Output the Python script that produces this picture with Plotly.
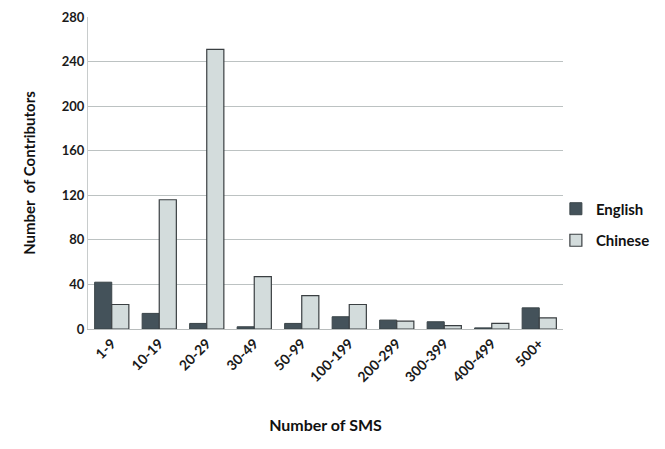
import plotly.graph_objects as go

categories = ["1-9", "10-19", "20-29", "30-49", "50-99", "100-199", "200-299", "300-399", "400-499", "500+"]
english = [42, 14, 5, 2, 5, 11, 8, 6.5, 1, 19]
chinese = [22, 116, 251, 47, 30, 22, 7, 3, 5, 10]
y_ticks = [0, 40, 80, 120, 160, 200, 240, 280]

FONT = "Lato"

fig = go.Figure()
fig.add_trace(go.Bar(x=categories, y=english, name="English", legendgroup="en",
                     marker=dict(color="#44525a", line=dict(color="#3a4448", width=1))))
fig.add_trace(go.Bar(x=categories, y=chinese, name="Chinese", legendgroup="zh",
                     marker=dict(color="#d3dcdc", line=dict(color="#3a3f42", width=1.2))))

fig.update_layout(
    width=657, height=441,
    margin=dict(l=80, r=102, t=9, b=120, autoexpand=False),
    paper_bgcolor="white", plot_bgcolor="white",
    barmode="group", bargap=0.28, bargroupgap=0,
    font=dict(family=FONT, color="#1a1a1a", size=14),
    legend=dict(x=0.985, y=0.335, xanchor="left", yanchor="middle",
                font=dict(family=FONT, size=15, color="#111", weight="bold"),
                bgcolor="rgba(0,0,0,0)", traceorder="grouped", tracegroupgap=9, itemwidth=30),
    xaxis=dict(tickangle=-45, showline=True, linecolor="#b8bcbc", linewidth=1, automargin=False,
               ticks="", tickfont=dict(family=FONT, size=14, color="#1a1a1a", weight="bold"),
               title=dict(text="<b>Number of SMS</b>", font=dict(family=FONT, size=16, color="#111"), standoff=35)),
    yaxis=dict(range=[0, 280], tickvals=y_ticks, showgrid=True, gridcolor="#bcc2c2", gridwidth=1,
               automargin=False,
               showline=True, linecolor="#c8cccc", linewidth=1, zeroline=False,
               tickfont=dict(family=FONT, size=13, color="#1a1a1a", weight="bold"),
               title=dict(text="<b>Number  of Contributors</b>", font=dict(family=FONT, size=15, color="#111"), standoff=22)),
)

fig.write_html("out.html")
